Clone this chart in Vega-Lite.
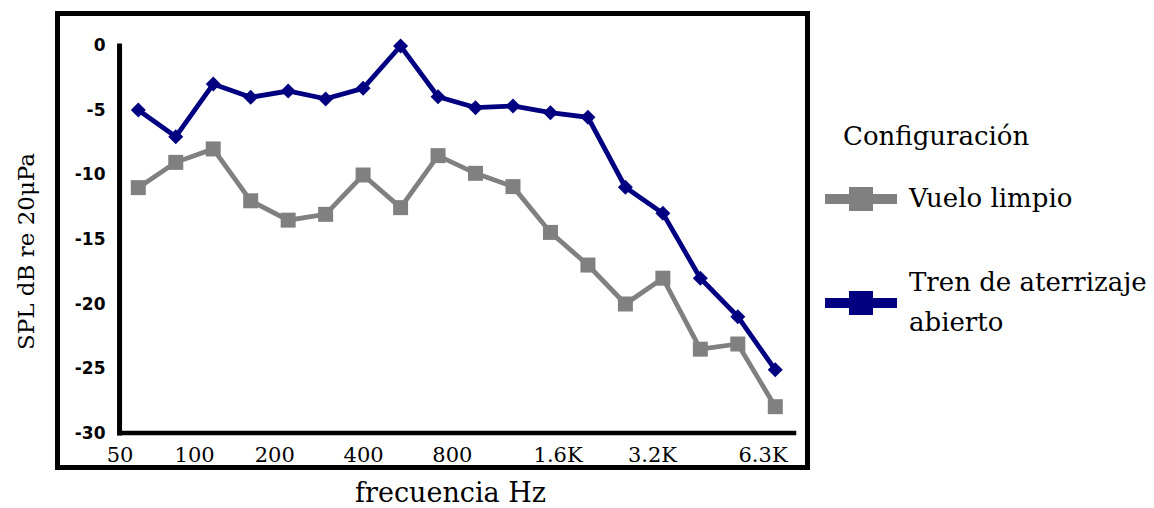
{
  "$schema": "https://vega.github.io/schema/vega-lite/v6.json",
  "width": 750,
  "height": 454,
  "autosize": {"type": "none"},
  "padding": {"left": 57.5, "top": 13.5, "right": 346.5, "bottom": 40.5},
  "background": "white",
  "config": {"view": {"stroke": "black", "strokeWidth": 5, "fill": "white"}},
  "data": {
    "values": [
      {"banda": 1, "serie": "Vuelo limpio", "spl": -10.98},
      {"banda": 2, "serie": "Vuelo limpio", "spl": -9.02},
      {"banda": 3, "serie": "Vuelo limpio", "spl": -7.98},
      {"banda": 4, "serie": "Vuelo limpio", "spl": -12.0},
      {"banda": 5, "serie": "Vuelo limpio", "spl": -13.5},
      {"banda": 6, "serie": "Vuelo limpio", "spl": -13.05},
      {"banda": 7, "serie": "Vuelo limpio", "spl": -10.0},
      {"banda": 8, "serie": "Vuelo limpio", "spl": -12.53},
      {"banda": 9, "serie": "Vuelo limpio", "spl": -8.5},
      {"banda": 10, "serie": "Vuelo limpio", "spl": -9.87},
      {"banda": 11, "serie": "Vuelo limpio", "spl": -10.9},
      {"banda": 12, "serie": "Vuelo limpio", "spl": -14.45},
      {"banda": 13, "serie": "Vuelo limpio", "spl": -16.98},
      {"banda": 14, "serie": "Vuelo limpio", "spl": -20.0},
      {"banda": 15, "serie": "Vuelo limpio", "spl": -18.0},
      {"banda": 16, "serie": "Vuelo limpio", "spl": -23.5},
      {"banda": 17, "serie": "Vuelo limpio", "spl": -23.1},
      {"banda": 18, "serie": "Vuelo limpio", "spl": -27.96},
      {"banda": 1, "serie": "Tren de aterrizaje abierto", "spl": -4.96},
      {"banda": 2, "serie": "Tren de aterrizaje abierto", "spl": -7.03},
      {"banda": 3, "serie": "Tren de aterrizaje abierto", "spl": -2.95},
      {"banda": 4, "serie": "Tren de aterrizaje abierto", "spl": -3.98},
      {"banda": 5, "serie": "Tren de aterrizaje abierto", "spl": -3.49},
      {"banda": 6, "serie": "Tren de aterrizaje abierto", "spl": -4.1},
      {"banda": 7, "serie": "Tren de aterrizaje abierto", "spl": -3.28},
      {"banda": 8, "serie": "Tren de aterrizaje abierto", "spl": 0.0},
      {"banda": 9, "serie": "Tren de aterrizaje abierto", "spl": -3.93},
      {"banda": 10, "serie": "Tren de aterrizaje abierto", "spl": -4.78},
      {"banda": 11, "serie": "Tren de aterrizaje abierto", "spl": -4.65},
      {"banda": 12, "serie": "Tren de aterrizaje abierto", "spl": -5.17},
      {"banda": 13, "serie": "Tren de aterrizaje abierto", "spl": -5.53},
      {"banda": 14, "serie": "Tren de aterrizaje abierto", "spl": -10.95},
      {"banda": 15, "serie": "Tren de aterrizaje abierto", "spl": -12.97},
      {"banda": 16, "serie": "Tren de aterrizaje abierto", "spl": -18.0},
      {"banda": 17, "serie": "Tren de aterrizaje abierto", "spl": -20.98},
      {"banda": 18, "serie": "Tren de aterrizaje abierto", "spl": -25.1}
    ]
  },
  "layer": [
    {
      "mark": {"type": "line", "strokeWidth": 4.8},
      "encoding": {
        "x": {
          "field": "banda",
          "type": "quantitative",
          "scale": {"domain": [-1.156, 18.86], "nice": false, "zero": false},
          "axis": {
            "values": [0.5, 2.49, 4.63, 7, 9.37, 12.19, 14.71, 17.66],
            "labelExpr": "['50','100','200','400','800','1.6K','3.2K','6.3K'][indexof([0.5,2.49,4.63,7,9.37,12.19,14.71,17.66], datum.value)]",
            "domain": false,
            "ticks": false,
            "tickSize": 0,
            "grid": false,
            "labelPadding": -6.5,
            "labelBaseline": "alphabetic",
            "labelAlign": "center",
            "labelFont": "DejaVu Serif",
            "labelFontSize": 21,
            "labelColor": "black",
            "labelOverlap": false,
            "labelFlush": false,
            "title": "frecuencia Hz",
            "titleFont": "DejaVu Serif",
            "titleFontSize": 27,
            "titleFontWeight": "normal",
            "titleColor": "black",
            "titleX": 392.5,
            "titleY": 34,
            "titleBaseline": "alphabetic",
            "titleAlign": "center",
            "zindex": 1
          }
        },
        "y": {
          "field": "spl",
          "type": "quantitative",
          "scale": {"domain": [-32.674, 2.519], "nice": false, "zero": false},
          "axis": {
            "values": [0, -5, -10, -15, -20, -25, -30],
            "labelExpr": "'' + datum.value",
            "domain": false,
            "ticks": false,
            "tickSize": 0,
            "grid": false,
            "labelPadding": -47.5,
            "labelAlign": "right",
            "labelBaseline": "middle",
            "labelFont": "DejaVu Sans",
            "labelFontWeight": "bold",
            "labelFontSize": 17,
            "labelColor": "black",
            "labelOverlap": false,
            "labelFlush": false,
            "title": "SPL dB re 20μPa",
            "titleFont": "DejaVu Serif",
            "titleFontSize": 23,
            "titleFontWeight": "normal",
            "titleColor": "black",
            "titleX": -31.5,
            "titleY": 237.5,
            "titleBaseline": "middle",
            "titleAlign": "center",
            "titleAngle": -90,
            "zindex": 1
          }
        },
        "color": {
          "field": "serie",
          "type": "nominal",
          "scale": {"domain": ["Vuelo limpio", "Tren de aterrizaje abierto"], "range": ["#808080", "#000080"]},
          "legend": {
            "title": "Configuración",
            "orient": "none",
            "legendX": 785.5,
            "legendY": 110.5,
            "titleFont": "DejaVu Serif",
            "titleFontSize": 26,
            "titleFontWeight": "normal",
            "titleColor": "black",
            "titleLimit": 500,
            "titlePadding": 36,
            "labelFont": "DejaVu Serif",
            "labelFontSize": 26,
            "labelColor": "black",
            "labelLimit": 400,
            "labelOffset": 35,
            "symbolType": "M-3,-0.42H3V0.42H-3Z M-1,-1H1V1H-1Z",
            "symbolSize": 576,
            "symbolStrokeWidth": 0,
            "symbolOffset": 5,
            "rowPadding": 58,
            "labelExpr": "datum.label == 'Tren de aterrizaje abierto' ? ['Tren de aterrizaje', 'abierto'] : datum.label",
            "encode": {
              "symbols": {"update": {"fill": {"scale": "color", "field": "value"}, "opacity": {"value": 1}, "shape": {"value": "M-3,-0.42H3V0.42H-3Z M-1,-1H1V1H-1Z"}}},
              "labels": {"update": {"lineHeight": {"value": 40}, "dy": {"signal": "datum.value == 'Tren de aterrizaje abierto' ? -20 : 0"}}}
            }
          }
        }
      }
    },
    {
      "transform": [{"filter": "datum.serie == 'Vuelo limpio'"}],
      "mark": {"type": "point", "filled": true, "size": 225, "opacity": 1, "strokeWidth": 0, "shape": "square"},
      "encoding": {
        "x": {"field": "banda", "type": "quantitative"},
        "y": {"field": "spl", "type": "quantitative"},
        "color": {"field": "serie", "type": "nominal", "legend": null}
      }
    },
    {
      "transform": [{"filter": "datum.serie == 'Tren de aterrizaje abierto'"}],
      "mark": {"type": "point", "filled": true, "size": 225, "opacity": 1, "strokeWidth": 0, "shape": "diamond"},
      "encoding": {
        "x": {"field": "banda", "type": "quantitative"},
        "y": {"field": "spl", "type": "quantitative"},
        "color": {"field": "serie", "type": "nominal", "legend": null}
      }
    },
    {
      "data": {"values": [{}]},
      "mark": {"type": "rule", "color": "black", "strokeWidth": 5, "strokeCap": "square"},
      "encoding": {
        "x": {"datum": 0.5, "type": "quantitative"},
        "y": {"datum": -30, "type": "quantitative"},
        "y2": {"datum": 0}
      }
    },
    {
      "data": {"values": [{}]},
      "mark": {"type": "rule", "color": "black", "strokeWidth": 4.5, "strokeCap": "square"},
      "encoding": {
        "x": {"datum": 0.5, "type": "quantitative"},
        "x2": {"datum": 18.5},
        "y": {"datum": -30, "type": "quantitative"}
      }
    }
  ]
}
